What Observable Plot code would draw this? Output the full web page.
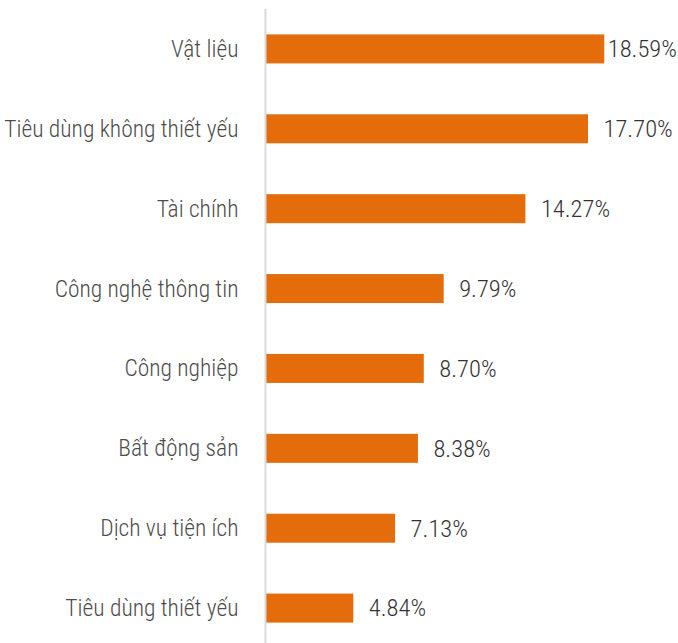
<!DOCTYPE html>
<html>
<head>
<meta charset="utf-8">
<script src="https://cdn.jsdelivr.net/npm/d3@7"></script>
<script src="https://cdn.jsdelivr.net/npm/@observablehq/plot@0.6"></script>
<style>
  html, body { margin: 0; padding: 0; background: #fff; overflow: hidden; }
  #chart svg { display: block; }
</style>
</head>
<body>
<div id="chart"></div>
<script>
const sectors = ["Vật liệu", "Tiêu dùng không thiết yếu", "Tài chính", "Công nghệ thông tin", "Công nghiệp", "Bất động sản", "Dịch vụ tiện ích", "Tiêu dùng thiết yếu"];
const shares = [18.59, 17.70, 14.27, 9.79, 8.70, 8.38, 7.13, 4.84];

const data = sectors.map((s, i) => ({sector: s, value: shares[i]}));
const maxVal = d3.max(shares);
const fmt = v => v.toFixed(2) + "%";
const font = "'Roboto Condensed', 'DejaVu Sans Condensed', sans-serif";

const chart = Plot.plot({
  width: 678,
  height: 643,
  marginLeft: 265,
  marginRight: 48,
  marginTop: 9,
  marginBottom: 0,
  style: {fontFamily: font, fontWeight: 300, background: "#fff", overflow: "visible"},
  x: {domain: [0, 20], axis: null},
  y: {domain: sectors, range: [9, 648], round: false, paddingInner: 0.637, paddingOuter: 0.318, label: null},
  marks: [
    Plot.axisY({tickSize: 0, tickPadding: 27, fontSize: 23.5, fontWeight: 300, fill: "#4d4d4d", label: null}),
    Plot.barX(data, {x: "value", y: "sector", fill: "#E46C0A"}),
    Plot.ruleX([0], {stroke: "#d9d9d9", strokeWidth: 2}),
    Plot.text(data.filter(d => d.value !== maxVal), {x: "value", y: "sector", text: d => fmt(d.value), textAnchor: "start", dx: 15, fontSize: 24.5, fontWeight: 300, fill: "#333333"}),
    Plot.text(data.filter(d => d.value === maxVal), {x: "value", y: "sector", text: d => fmt(d.value), textAnchor: "start", dx: 3, fontSize: 24.5, fontWeight: 300, fill: "#333333"})
  ]
});
document.getElementById("chart").appendChild(chart);
</script>
</body>
</html>
